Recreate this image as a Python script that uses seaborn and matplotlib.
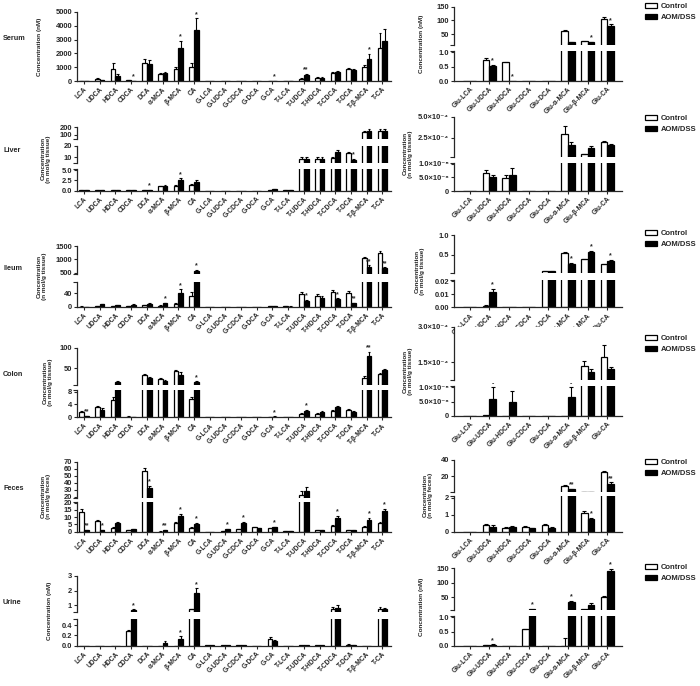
import numpy as np
import pandas as pd
import matplotlib
matplotlib.use("Agg")
import matplotlib.pyplot as plt
import seaborn as sns
from matplotlib.patches import Patch
from matplotlib.ticker import FixedLocator

# ---- categories ----
acids = ["LCA", "UDCA", "HDCA", "CDCA", "DCA", "α-MCA", "β-MCA", "CA",
         "G-LCA", "G-UDCA", "G-CDCA", "G-DCA", "G-CA", "T-LCA", "T-UDCA",
         "T-HDCA", "T-CDCA", "T-DCA", "T-β-MCA", "T-CA"]
glu_acids = ["Glu-LCA", "Glu-UDCA", "Glu-HDCA", "Glu-CDCA", "Glu-DCA",
             "Glu-α-MCA", "Glu-β-MCA", "Glu-CA"]

# ---- serum ----
serum_ctrl = [20, 150, 900, 50, 1300, 480, 850, 1000, 0, 0, 0, 0, 10, 20, 150, 250, 600, 850, 1030, 2370]
serum_ctrl_se = [5, 40, 400, 20, 280, 80, 200, 320, 0, 0, 0, 0, 5, 5, 40, 60, 60, 80, 100, 1100]
serum_aom = [10, 70, 350, 10, 1250, 560, 2400, 3700, 0, 0, 0, 0, 20, 20, 450, 230, 650, 830, 1570, 2900]
serum_aom_se = [5, 30, 150, 5, 250, 70, 500, 850, 0, 0, 0, 0, 10, 5, 80, 50, 50, 60, 400, 870]
serum_sig = ["", "", "", "*", "", "", "*", "*", "", "", "", "", "*", "", "**", "", "", "", "*", ""]

serum_glu_ctrl = [0, 0.72, 0.65, 0, 0, 62, 23, 104]
serum_glu_ctrl_se = [0, 0.08, 0.02, 0, 0, 2, 2, 10]
serum_glu_aom = [0, 0.53, 0, 0, 0, 20, 20, 78]
serum_glu_aom_se = [0, 0.03, 0, 0, 0, 1, 1.5, 8]
serum_glu_sig = ["", "*", "*", "", "", "", "*", "*"]

# ---- liver ----
liver_ctrl = [0.1, 0.05, 0.1, 0.1, 0.2, 1.1, 1.2, 1.4, 0, 0, 0, 0, 0.2, 0.2, 9, 9, 9.5, 13.5, 130, 150]
liver_ctrl_se = [0.02, 0.01, 0.02, 0.02, 0.03, 0.15, 0.25, 0.3, 0, 0, 0, 0, 0.03, 0.03, 1, 1, 1.2, 1.5, 20, 25]
liver_aom = [0.05, 0.05, 0.1, 0.1, 0.2, 1.2, 2.6, 2.0, 0, 0, 0, 0, 0.3, 0.2, 9, 9, 15, 8, 150, 150]
liver_aom_se = [0.01, 0.01, 0.02, 0.02, 0.03, 0.2, 0.4, 0.6, 0, 0, 0, 0, 0.05, 0.03, 1, 1.3, 1.5, 1, 25, 25]
liver_sig = ["", "", "", "", "*", "", "*", "", "", "", "", "", "", "", "", "", "", "*", "", ""]

liver_glu_ctrl = [0, 6.8e-6, 4.8e-6, 0, 0, 3.0e-4, 0.55e-4, 1.95e-4]
liver_glu_ctrl_se = [0, 1.0e-6, 1.2e-6, 0, 0, 0.9e-4, 0.05e-4, 0.1e-4]
liver_glu_aom = [0, 5.0e-6, 6.0e-6, 0, 0, 1.65e-4, 1.25e-4, 1.65e-4]
liver_glu_aom_se = [0, 1.0e-6, 2.5e-6, 0, 0, 0.35e-4, 0.3e-4, 0.15e-4]
liver_glu_sig = [""] * 8

# ---- ileum ----
ileum_ctrl = [0.5, 2, 2, 1, 4, 3, 8, 32, 0, 0, 0, 0, 1.5, 1, 38, 33, 44, 40, 1040, 1230]
ileum_ctrl_se = [0.2, 0.5, 0.5, 0.3, 1, 1, 2, 12, 0, 0, 0, 0, 0.3, 0.3, 5, 4, 6, 7, 60, 80]
ileum_aom = [0.3, 7, 4, 6, 8, 10, 42, 570, 0, 0, 0, 0, 1.5, 0.5, 18, 25, 22, 11, 720, 660]
ileum_aom_se = [0.1, 2, 1, 2, 2, 2, 10, 40, 0, 0, 0, 0, 0.3, 0.2, 2, 6, 3, 1, 50, 40]
ileum_sig = ["", "", "", "", "", "*", "*", "*", "", "", "", "", "", "", "*", "", "*", "**", "**", "**"]

ileum_glu_ctrl = [0, 0.001, 0, 0, 0.09, 0.53, 0.38, 0.25]
ileum_glu_ctrl_se = [0, 0.0005, 0, 0, 0.005, 0.03, 0.02, 0.02]
ileum_glu_aom = [0, 0.012, 0, 0, 0.09, 0.27, 0.57, 0.35]
ileum_glu_aom_se = [0, 0.002, 0, 0, 0.005, 0.02, 0.03, 0.02]
ileum_glu_sig = ["", "*", "", "", "", "*", "*", "*"]

# ---- colon ----
colon_ctrl = [1.8, 3.2, 5.5, 0.2, 34, 24, 43, 5.8, 0, 0, 0, 0, 0.05, 0, 1.0, 0.9, 2.0, 2.4, 28, 37]
colon_ctrl_se = [0.3, 0.3, 0.7, 0.05, 3, 2, 4, 0.5, 0, 0, 0, 0, 0.02, 0, 0.2, 0.3, 0.4, 0.3, 3, 2]
colon_aom = [0.4, 2.3, 17.5, 0.1, 26, 19, 35, 17, 0, 0, 0, 0, 0.2, 0, 2.0, 1.7, 3.3, 1.8, 80, 46]
colon_aom_se = [0.1, 0.5, 2, 0.05, 3, 2, 6, 2, 0, 0, 0, 0, 0.05, 0, 0.3, 0.4, 0.3, 0.2, 10, 3]
colon_sig = ["**", "", "", "", "", "", "", "*", "", "", "", "", "*", "", "*", "", "", "", "**", ""]

colon_glu_ctrl = [0, 2e-7, 0, 0, 0, 0, 1.36e-4, 1.74e-4]
colon_glu_ctrl_se = [0, 0, 0, 0, 0, 0, 0.2e-4, 0.5e-4]
colon_glu_aom = [0, 6e-6, 4.8e-6, 0, 0, 6.5e-6, 1.1e-4, 1.2e-4]
colon_glu_aom_se = [0, 4e-6, 4e-6, 0, 0, 3.5e-6, 0.1e-4, 0.1e-4]
colon_glu_sig = ["", "-", "", "", "", "-", "", ""]

# ---- feces ----
feces_ctrl = [13.6, 7.3, 2.7, 1.1, 57, 0.1, 6.1, 2.7, 0, 0.4, 1.8, 3, 2.3, 0.5, 23, 1, 4.1, 1.1, 3.4, 6.1]
feces_ctrl_se = [2.3, 1, 0.4, 0.2, 4, 0.05, 0.8, 0.4, 0, 0.1, 0.3, 0.4, 0.3, 0.1, 5, 0.2, 0.8, 0.2, 0.5, 0.6]
feces_aom = [1.1, 1.1, 5.7, 1.6, 32, 1.1, 10.7, 5.2, 0, 1.6, 5.7, 2.3, 3, 0.3, 28, 1, 9.5, 0.9, 8.4, 14.3]
feces_aom_se = [0.3, 0.3, 1, 0.3, 3, 0.3, 1.5, 0.8, 0, 0.3, 1, 0.3, 0.5, 0.1, 6, 0.2, 1.5, 0.2, 1, 1.5]
feces_sig = ["**", "*", "", "", "*", "**", "*", "*", "", "*", "*", "", "*", "", "", "", "*", "", "*", "*"]

feces_glu_ctrl = [0, 0.4, 0.22, 0.28, 0.38, 9, 1.1, 25]
feces_glu_ctrl_se = [0, 0.05, 0.03, 0.03, 0.05, 1, 0.1, 2]
feces_glu_aom = [0, 0.3, 0.27, 0.2, 0.2, 4.5, 0.72, 11]
feces_glu_aom_se = [0, 0.1, 0.05, 0.03, 0.1, 0.5, 0.1, 2]
feces_glu_sig = ["", "", "", "", "", "**", "*", "**"]

# ---- urine ----
urine_ctrl = [0, 0, 0, 0.28, 0, 0, 0, 0.7, 0.005, 0.005, 0.01, 0, 0.14, 0, 0.005, 0.005, 0.7, 0.02, 0, 0.75]
urine_ctrl_se = [0, 0, 0, 0.02, 0, 0, 0, 0.03, 0, 0, 0, 0, 0.03, 0, 0, 0, 0.15, 0.01, 0, 0.1]
urine_aom = [0, 0, 0, 0.65, 0, 0.06, 0.13, 1.8, 0.005, 0.005, 0.01, 0, 0.1, 0, 0.005, 0.005, 0.8, 0.01, 0, 0.7]
urine_aom_se = [0, 0, 0, 0.05, 0, 0.03, 0.05, 0.35, 0, 0, 0, 0, 0.02, 0, 0, 0, 0.2, 0.005, 0, 0.08]
urine_sig = ["", "", "", "*", "", "", "*", "*", "", "", "", "", "", "", "", "", "", "", "", ""]

urine_glu_ctrl = [0, 0.02, 0, 0.58, 0, 0, 7, 50]
urine_glu_ctrl_se = [0, 0.005, 0, 0.02, 0, 0.27, 0, 3]
urine_glu_aom = [0, 0.04, 0, 8, 0, 32, 24, 140]
urine_glu_aom_se = [0, 0.01, 0, 0, 0, 4, 4, 8]
urine_glu_sig = ["", "*", "", "*", "", "*", "", "*"]

# ---- axis segments: (ymin, ymax, ticks, tick format, top px, bottom px) ----
sci = {2.5e-4: "2.5×10⁻⁴", 5e-4: "5.0×10⁻⁴", 1.5e-4: "1.5×10⁻⁴", 3e-4: "3.0×10⁻⁴",
       1e-5: "1.0×10⁻⁵", 5e-6: "5.0×10⁻⁶", 0: "0"}

rows = [
    ("Serum", 40, "Concentration (nM)", 422, "Concentration (nM)",
     [(0, 5000, [0, 1000, 2000, 3000, 4000, 5000], None, 12, 81)],
     [(10, 150, [50, 100, 150], None, 6.7, 45), (0, 1.05, [0, 0.5, 1.0], "{:.1f}", 51, 81)],
     (serum_ctrl, serum_aom, serum_ctrl_se, serum_aom_se, serum_sig),
     (serum_glu_ctrl, serum_glu_aom, serum_glu_ctrl_se, serum_glu_aom_se, serum_glu_sig), 3),
    ("Liver", 46, "Concentration\n(n mol/g tissue)", 408, "Concentration\n(n mol/g tissue)",
     [(40, 200, [100, 200], None, 127, 139), (5, 20, [10, 20], None, 145.7, 163.3),
      (0, 5.25, [0, 2.5, 5.0], "{:.1f}", 169, 190.7)],
     [(2.4e-5, 5e-4, [2.5e-4, 5e-4], "sci", 116.7, 156.7), (0, 1.05e-5, [0, 5e-6, 1e-5], "sci", 162.5, 191)],
     (liver_ctrl, liver_aom, liver_ctrl_se, liver_aom_se, liver_sig),
     (liver_glu_ctrl, liver_glu_aom, liver_glu_ctrl_se, liver_glu_aom_se, liver_glu_sig), 115),
    ("Ileum", 42, "Concentration\n(n mol/g tissue)", 420, "Concentration\n(n mol/g tissue)",
     [(440, 1500, [500, 1000, 1500], None, 246, 274.3), (0, 75, [0, 40], None, 281.7, 306.7)],
     [(0.025, 1.0, [0.5, 1.0], "{:.1f}", 235, 273.3), (0, 0.021, [0, 0.01, 0.02], "{:.2f}", 280, 307.3)],
     (ileum_ctrl, ileum_aom, ileum_ctrl_se, ileum_aom_se, ileum_sig),
     (ileum_glu_ctrl, ileum_glu_aom, ileum_glu_ctrl_se, ileum_glu_aom_se, ileum_glu_sig), 230),
    ("Colon", 48, "Concentration\n(n mol/g tissue)", 408, "Concentration\n(n mol/g tissue)",
     [(10, 100, [50, 100], None, 347.7, 385), (0, 8.5, [0, 4, 8], None, 390, 417.3)],
     [(0.75e-4, 3e-4, [1.5e-4, 3e-4], "sci", 326.7, 380), (0, 1.05e-5, [0, 5e-6, 1e-5], "sci", 386, 415.7)],
     (colon_ctrl, colon_aom, colon_ctrl_se, colon_aom_se, colon_sig),
     (colon_glu_ctrl, colon_glu_aom, colon_glu_ctrl_se, colon_glu_aom_se, colon_glu_sig), 335),
    ("Feces", 46, "Concentration\n(n mol/g feces)", 428, "Concentration\n(n mol/g feces)",
     [(18, 70, [20, 30, 40, 50, 60, 70], None, 461.7, 498), (0, 20.5, [0, 5, 10, 15, 20], None, 502, 531.7)],
     [(1.5, 40, [20, 40], None, 460, 491.7), (0, 2.1, [0, 1, 2], None, 496, 531.7)],
     (feces_ctrl, feces_aom, feces_ctrl_se, feces_aom_se, feces_sig),
     (feces_glu_ctrl, feces_glu_aom, feces_glu_ctrl_se, feces_glu_aom_se, feces_glu_sig), 459),
    ("Urine", 49, "Concentration (nM)", 422, "Concentration (nM)",
     [(0.5, 3, [1, 2, 3], None, 576, 612.3), (0, 0.52, [0, 0.2, 0.4], "{:.1f}", 619, 645.7)],
     [(5, 150, [50, 100, 150], None, 568.3, 610), (0, 1.05, [0, 0.5, 1.0], "{:.1f}", 616, 645.7)],
     (urine_ctrl, urine_aom, urine_ctrl_se, urine_aom_se, urine_sig),
     (urine_glu_ctrl, urine_glu_aom, urine_glu_ctrl_se, urine_glu_aom_se, urine_glu_sig), 564),
]

W, H = 700, 686
sns.set_style("ticks")
plt.rcParams["font.family"] = ["Liberation Sans", "DejaVu Sans"]
plt.rcParams["font.weight"] = "bold"
plt.rcParams["axes.linewidth"] = 0.9

fig = plt.figure(figsize=(W / 100, H / 100), dpi=100)


def px_axes(x0, x1, top, bottom):
    return fig.add_axes([x0 / W, 1 - bottom / H, (x1 - x0) / W, (bottom - top) / H])


def fmt_labels(ticks, fmt):
    if fmt is None:
        return [f"{t:g}" for t in ticks]
    if fmt == "sci":
        return [sci[t] for t in ticks]
    return [fmt.format(t) for t in ticks]


def draw_panel(x0, x1, xlim, segs, cats, series, bar_w):
    ctrl, aom, ctrl_se, aom_se, sig = series
    df = pd.DataFrame({"acid": cats * 2,
                       "group": ["Control"] * len(cats) + ["AOM/DSS"] * len(cats),
                       "conc": list(ctrl) + list(aom)})
    axes = []
    for k, (lo, hi, ticks, fmt, top, bottom) in enumerate(segs):
        ax = px_axes(x0, x1, top, bottom)
        sns.barplot(data=df, x="acid", y="conc", hue="group", hue_order=["Control", "AOM/DSS"],
                    palette={"Control": "white", "AOM/DSS": "black"}, edgecolor="black",
                    linewidth=0.9, width=bar_w, errorbar=None, legend=False, ax=ax)
        # one-sided SEM bars (upper only)
        for cont, vals, se in zip(ax.containers, (ctrl, aom), (ctrl_se, aom_se)):
            for b, v, e in zip(cont, vals, se):
                if e <= 0:
                    continue
                xc = b.get_x() + b.get_width() / 2
                cw = b.get_width() * 0.3
                ax.vlines(xc, v, v + e, colors="black", linewidth=0.8)
                ax.hlines(v + e, xc - cw, xc + cw, colors="black", linewidth=0.8)
        ax.set_xlim(*xlim)
        ax.set_ylim(lo, hi)
        ax.set_yticks(ticks)
        ax.set_yticklabels(fmt_labels(ticks, fmt))
        ax.set_xlabel("")
        ax.set_ylabel("")
        sns.despine(ax=ax)
        ax.tick_params(axis="y", labelsize=5.4, length=2.5, width=0.8, pad=1)
        # little marks at the broken ends
        marks = []
        if k > 0:
            marks.append(hi)
        if k < len(segs) - 1:
            marks.append(lo)
        ax.yaxis.set_minor_locator(FixedLocator(marks))
        ax.tick_params(axis="y", which="minor", length=3, width=0.8)
        if k == len(segs) - 1:
            ax.tick_params(axis="x", labelsize=4.8, length=2.5, width=0.8, pad=1)
            plt.setp(ax.get_xticklabels(), rotation=45, ha="right", rotation_mode="anchor")
        else:
            ax.spines["bottom"].set_visible(False)
            ax.tick_params(axis="x", bottom=False, labelbottom=False)
        axes.append(ax)

    # significance marks above the AOM/DSS bars
    xs = [b.get_x() + b.get_width() / 2 for b in axes[-1].containers[1]]
    for i, s in enumerate(sig):
        if not s:
            continue
        top_val = aom[i] + aom_se[i]
        target, seg = axes[-1], segs[-1]
        for ax, sg in zip(axes, segs):
            if top_val >= sg[0]:
                target, seg = ax, sg
                break
        target.annotate(s, (xs[i], min(top_val, seg[1])), xytext=(0, 0.3), textcoords="offset points",
                        ha="center", va="bottom", fontsize=5, annotation_clip=False)
    return axes


for name, lx, lylab, rx, rylab, lsegs, rsegs, lser, rser, leg_top in rows:
    draw_panel(77, 391, (-0.45, 19.55), lsegs, acids, lser, 0.6)
    draw_panel(454, 622, (-0.8, 7.75), rsegs, glu_acids, rser, 0.68)

    lmid = (lsegs[0][4] + lsegs[-1][5]) / 2
    rmid = (rsegs[0][4] + rsegs[-1][5]) / 2
    fig.text(lx / W, 1 - lmid / H, lylab, rotation=90, ha="center", va="center",
             fontsize=4.6, linespacing=1.1)
    fig.text(rx / W, 1 - rmid / H, rylab, rotation=90, ha="center", va="center",
             fontsize=4.6, linespacing=1.1)
    fig.text(3 / W, 1 - (lmid - 8) / H, name, ha="left", va="center", fontsize=5.2)

    handles = [Patch(facecolor="white", edgecolor="black", linewidth=0.9),
               Patch(facecolor="black", edgecolor="black", linewidth=0.9)]
    fig.legend(handles, ["Control", "AOM/DSS"], loc="upper left",
               bbox_to_anchor=(645 / W, 1 - leg_top / H), frameon=False, fontsize=5.5,
               handlelength=1.6, handleheight=0.7, labelspacing=0.45, handletextpad=0.5,
               borderpad=0, borderaxespad=0)

fig.savefig("out.png", dpi=100)
